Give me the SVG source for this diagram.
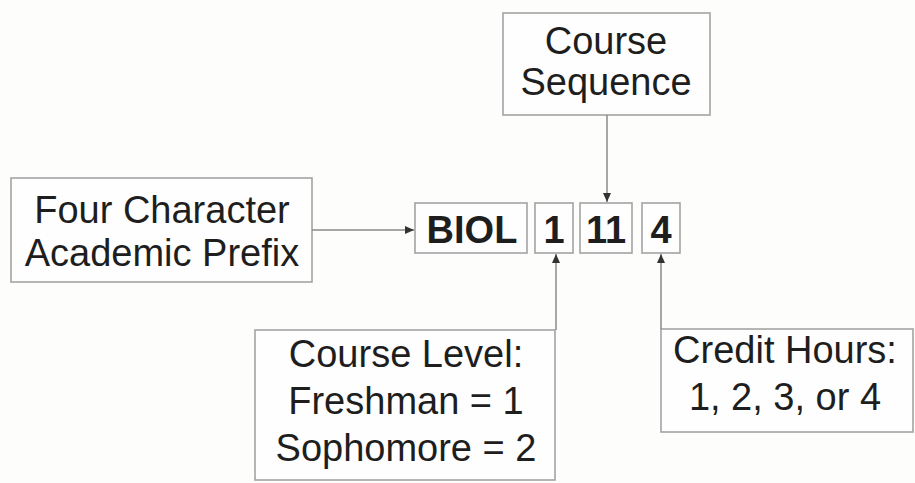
<svg xmlns="http://www.w3.org/2000/svg" width="915" height="483" viewBox="0 0 915 483">
<style>
.box{fill:#fefefe;stroke:#a3a3a3;stroke-width:1.6}
.t{font-family:"Liberation Sans",Arial,sans-serif;font-size:38px;fill:#1e1e1e;text-anchor:middle}
.b{font-weight:bold}
.c{stroke:#8a8a8a;stroke-width:1.5;fill:none}
</style>
<defs>
<marker id="ah" markerWidth="10" markerHeight="10" refX="9" refY="5" orient="auto" markerUnits="userSpaceOnUse">
<path d="M0,1 L9,5 L0,9 Z" fill="#333"/>
</marker>
</defs>
<rect x="0" y="0" width="915" height="483" fill="#fdfdfb"/>
<g id="course-sequence">
<rect class="box" x="503" y="13" width="207" height="102"/>
<text class="t" x="606" y="54">Course</text>
<text class="t" x="606" y="95">Sequence</text>
</g>
<g id="prefix-desc">
<rect class="box" x="11" y="178" width="301" height="104"/>
<text class="t" x="162" y="223">Four Character</text>
<text class="t" x="162" y="266">Academic Prefix</text>
</g>
<g id="biol">
<rect class="box" x="415" y="203" width="112" height="50"/>
<text class="t b" x="472" y="243">BIOL</text>
</g>
<g id="level-digit">
<rect class="box" x="535" y="203" width="38" height="50"/>
<text class="t b" x="554" y="243">1</text>
</g>
<g id="sequence-digits">
<rect class="box" x="580" y="203" width="52" height="50"/>
<text class="t b" x="606" y="243">11</text>
</g>
<g id="hours-digit">
<rect class="box" x="642" y="203" width="38" height="50"/>
<text class="t b" x="661" y="243">4</text>
</g>
<g id="course-level">
<rect class="box" x="255" y="330" width="300" height="150"/>
<text class="t" x="406" y="367">Course Level:</text>
<text class="t" x="406" y="414">Freshman = 1</text>
<text class="t" x="406" y="461">Sophomore = 2</text>
</g>
<g id="credit-hours">
<rect class="box" x="661" y="329" width="252" height="103"/>
<text class="t" x="785" y="363">Credit Hours:</text>
<text class="t" x="785" y="410">1, 2, 3, or 4</text>
</g>
<g id="connectors">
<line class="c" x1="312" y1="230" x2="414" y2="230" marker-end="url(#ah)"/>
<line class="c" x1="607" y1="115" x2="607" y2="202" marker-end="url(#ah)"/>
<line class="c" x1="556" y1="330" x2="556" y2="254" marker-end="url(#ah)"/>
<line class="c" x1="661" y1="329" x2="661" y2="254" marker-end="url(#ah)"/>
</g>
</svg>
